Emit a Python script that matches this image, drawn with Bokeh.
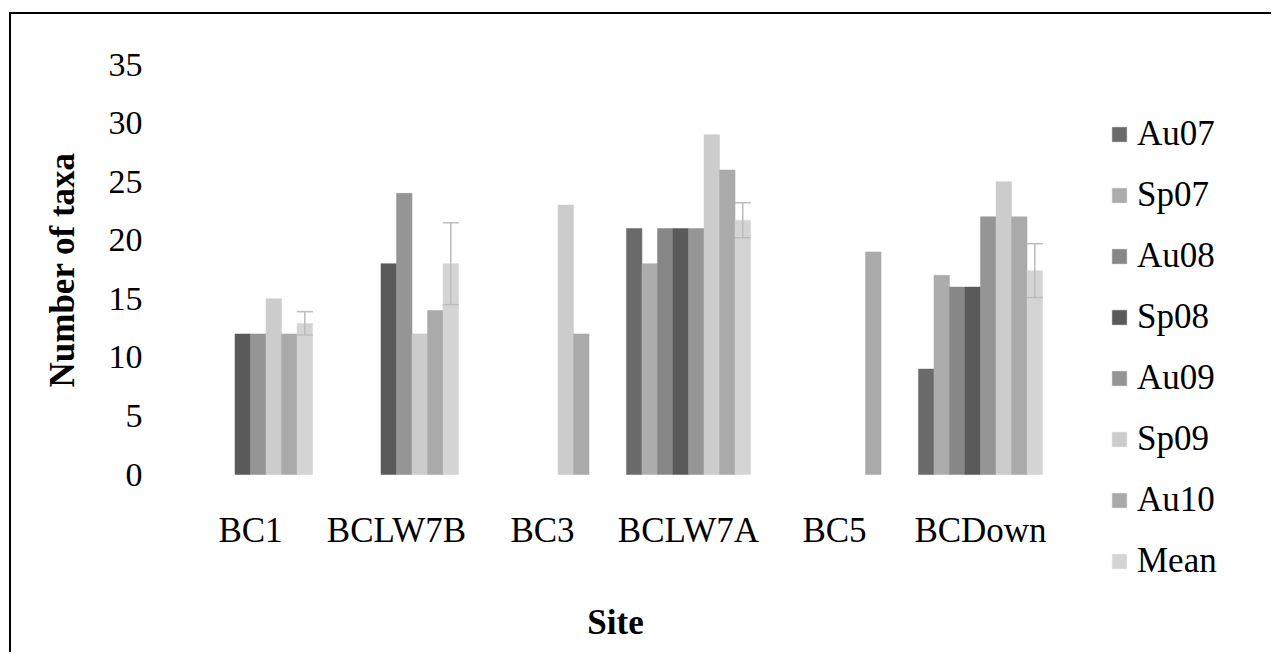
from bokeh.plotting import figure
from bokeh.models import (Range1d, ColumnDataSource, Whisker, TeeHead,
                          Legend, LegendItem, FixedTicker, Title, Label)
from bokeh.transform import dodge
from bokeh.embed import file_html
from bokeh.resources import INLINE

# ---- data ----
sites = ["BC1", "BCLW7B", "BC3", "BCLW7A", "BC5", "BCDown"]
series = ["Au07", "Sp07", "Au08", "Sp08", "Au09", "Sp09", "Au10", "Mean"]
au07 = [None, None, None, 21, None, 9]
sp07 = [None, None, None, 18, None, 17]
au08 = [None, None, None, 21, None, 16]
sp08 = [12, 18, None, 21, None, 16]
au09 = [12, 24, None, 21, None, 22]
sp09 = [15, 12, 23, 29, None, 25]
au10 = [12, 14, 12, 26, 19, 22]
mean = [12.9, 18.0, None, 21.7, None, 17.4]
mean_err = [1.0, 3.5, None, 1.5, None, 2.3]
y_ticks = [0, 5, 10, 15, 20, 25, 30, 35]

values = [au07, sp07, au08, sp08, au09, sp09, au10, mean]
colors = ["#6a6a6a", "#acacac", "#878787", "#5a5a5a", "#959595", "#cccccc", "#aaaaaa", "#d4d4d4"]

FONT = "Liberation Serif"

# ---- layout geometry (pixels) ----
W, H = 1262, 640
BORDER_L, BORDER_T, BORDER_R, BORDER_B = 166, 50, 5, 0
CAT_PX = 146.0            # width of one site category
PX_PER_UNIT = 410 / 35.0  # y scale
frame_w = W - BORDER_L - BORDER_R
frame_h = H - BORDER_T - BORDER_B
x_end = -0.5 + frame_w / CAT_PX
y_start = 35 - frame_h / PX_PER_UNIT

p = figure(x_range=Range1d(-0.5, x_end), y_range=Range1d(y_start, 35),
           width=W, height=H, output_backend="svg", toolbar_location=None,
           min_border_left=BORDER_L, min_border_right=BORDER_R,
           min_border_top=BORDER_T, min_border_bottom=BORDER_B)
p.margin = (12, 0, 0, 9)
p.styles = {"border-left": "2px solid #000000", "border-top": "2px solid #000000"}
p.outline_line_color = None
p.xgrid.grid_line_color = None
p.ygrid.grid_line_color = None
p.background_fill_color = "white"
p.border_fill_color = "white"

pos = list(range(len(sites)))
slot = 0.85 / 8
items = []
for k, (name, vals, col) in enumerate(zip(series, values, colors)):
    xs = [i for i, v in zip(pos, vals) if v is not None]
    ys = [v for v in vals if v is not None]
    src = ColumnDataSource(dict(pos=xs, top=ys))
    r = p.vbar(x=dodge("pos", (k - 3.5) * slot), top="top", bottom=0,
               width=slot, source=src, fill_color=col, line_color=col, line_width=0.5)
    items.append(LegendItem(label=name, renderers=[r]))

# error bars on the mean
es = [i for i, m in zip(pos, mean) if m is not None]
em = [m for m in mean if m is not None]
ee = [e for e in mean_err if e is not None]
esrc = ColumnDataSource(dict(pos=es, lower=[m - e for m, e in zip(em, ee)],
                             upper=[m + e for m, e in zip(em, ee)]))
wcol = "#bdbdbd"
wh = Whisker(base=dodge("pos", 3.5 * slot), lower="lower", upper="upper",
             source=esrc, line_color=wcol, line_width=1.5, level="overlay",
             upper_head=TeeHead(size=16, line_color=wcol, line_width=1.5),
             lower_head=TeeHead(size=16, line_color=wcol, line_width=1.5))
p.add_layout(wh)

# axes
for ax in (p.xaxis[0], p.yaxis[0]):
    ax.axis_line_color = None
    ax.major_tick_line_color = None
    ax.minor_tick_line_color = None
    ax.major_label_text_font = FONT
    ax.major_label_text_color = "black"

p.yaxis.major_label_text_font_size = "34px"
p.yaxis.ticker = FixedTicker(ticks=y_ticks)
p.yaxis.major_label_standoff = 29

p.xaxis.fixed_location = 0
p.xaxis.ticker = FixedTicker(ticks=pos)
p.xaxis.major_label_overrides = {i: s for i, s in zip(pos, sites)}
p.xaxis.major_label_text_font_size = "35px"
p.xaxis.major_label_standoff = 30

# x-axis title, centred under the site categories
xtitle = Label(x=(pos[0] + pos[-1]) / 2, y=32, x_units="data", y_units="screen",
               text="Site", text_align="center", text_baseline="alphabetic",
               text_font=FONT, text_font_size="35px", text_font_style="bold",
               text_color="black")
p.add_layout(xtitle)

# y-axis title
ytitle = Title(text="Number of taxa", align="left", offset=267, standoff=48,
               text_font=FONT, text_font_size="35px", text_font_style="bold",
               text_color="black")
p.add_layout(ytitle, "left")

legend = Legend(items=items, location=(933, 73), orientation="vertical",
                glyph_width=18, glyph_height=18, label_standoff=9, spacing=21,
                padding=0, margin=0, border_line_color=None, background_fill_alpha=0,
                label_text_font=FONT, label_text_font_size="35px", label_text_color="black")
p.add_layout(legend)

open("out.html", "w").write(file_html(p, INLINE))
